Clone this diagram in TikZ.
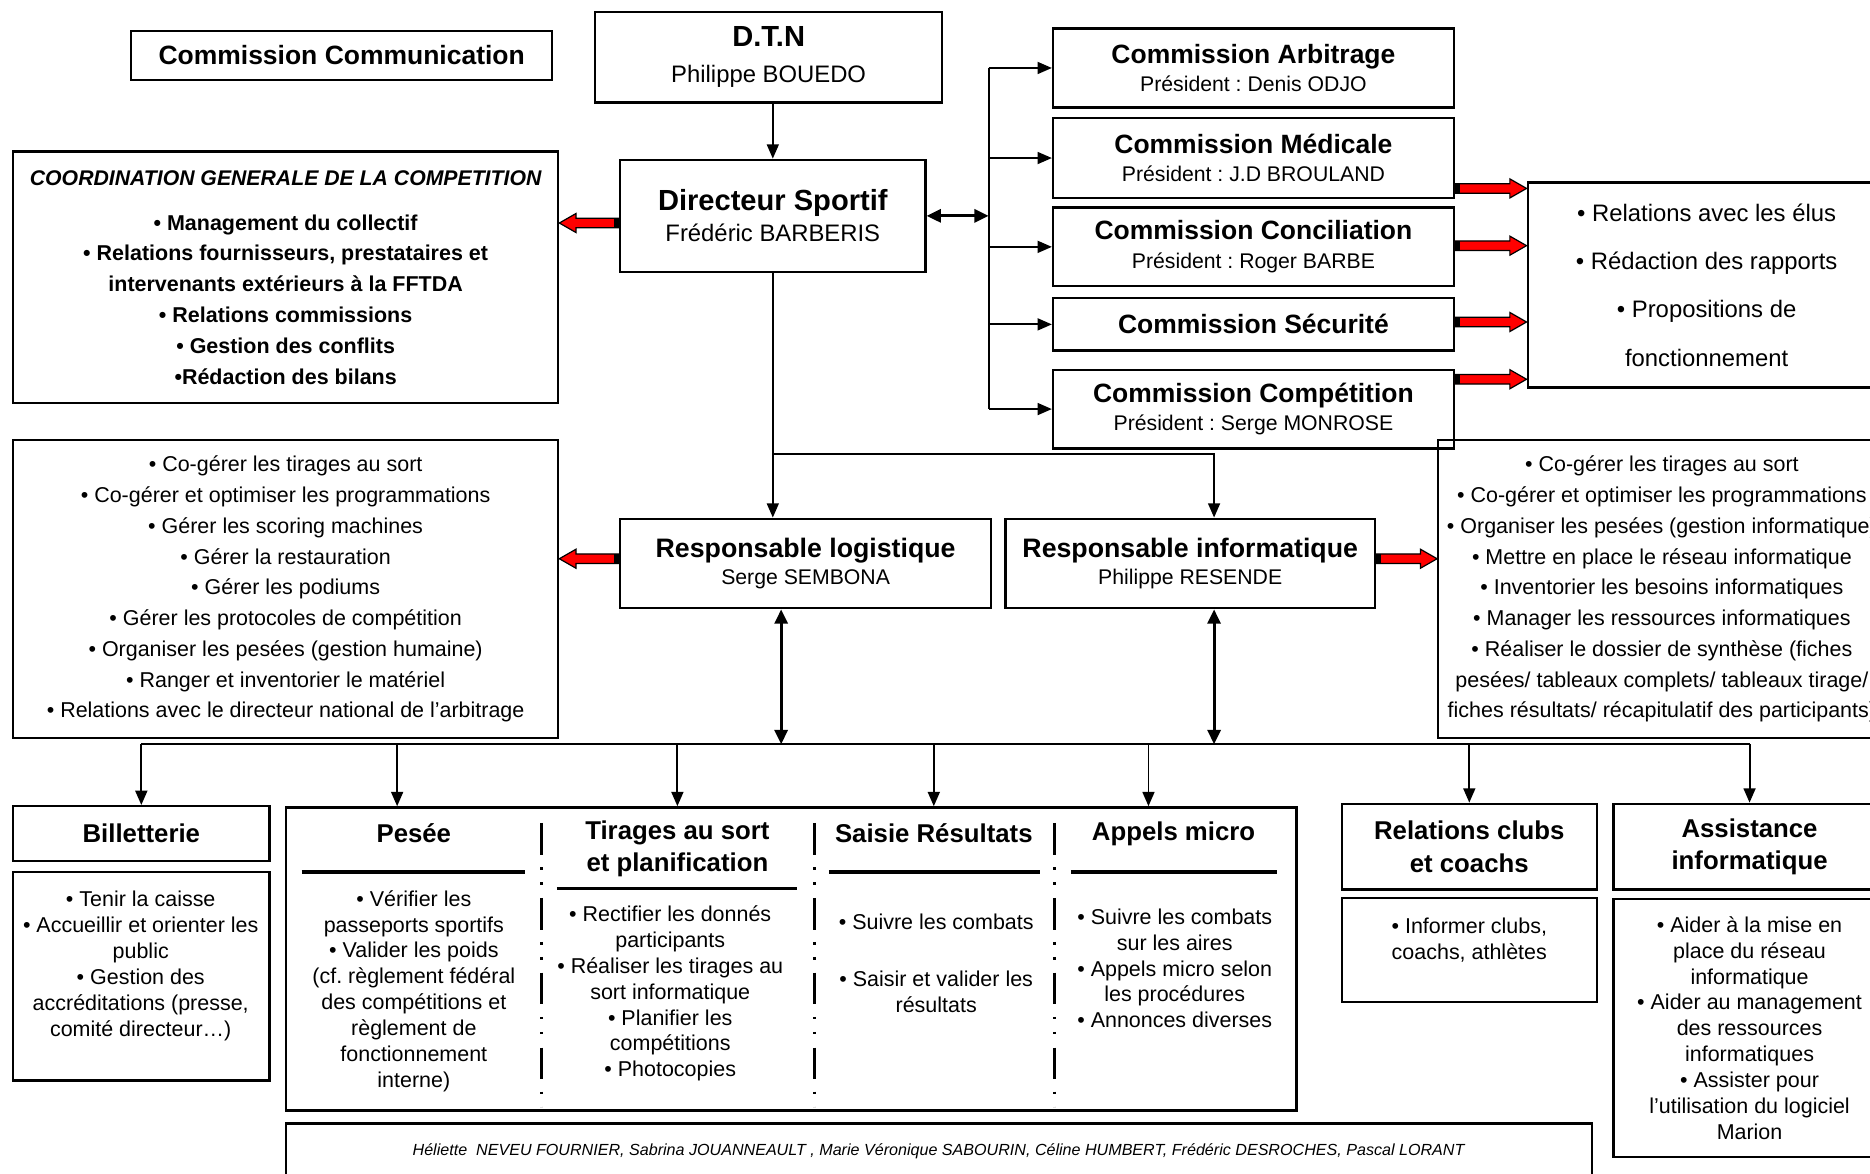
\documentclass[tikz,border=0pt]{standalone}
\usepackage{fontspec}
\setmainfont{Liberation Sans}
\frenchspacing
\usetikzlibrary{arrows.meta,calc}
\newcommand\hA{\fontsize{12.2}{13}\selectfont\bfseries}
\newcommand\hB{\fontsize{11.1}{12}\selectfont\bfseries}
\newcommand\hC{\fontsize{10.8}{13.5}\selectfont\bfseries}
\newcommand\fatarrow[2]{%
  \path #1 coordinate (fa1);
  \path (#2 |- fa1) coordinate (fa2);
  \path ($(fa2)!7pt!(fa1)$) coordinate (fah);
  \filldraw[fill=red,draw=black,line width=0.5pt] ($(fa1)+(0,4)$) -- ($(fah)+(0,4)$) -- ($(fah)+(0,8)$)
    -- (fa2) -- ($(fah)+(0,-8)$) -- ($(fah)+(0,-4)$) -- ($(fa1)+(0,-4)$) -- cycle;
  \fill ($(fa1)+(0,4)$) rectangle ($(fa1)!2pt!(fa2)+(0,-4)$);}
\begin{document}
\begin{tikzpicture}[x=0.5pt,y=-0.5pt,
    box/.style={draw,line width=1pt,inner sep=0pt,align=center},
    spot/.style n args={4}{at={({(#1+#3)/2},{(#2+#4)/2})},minimum width={(#3-#1)*0.5pt},minimum height={(#4-#2)*0.5pt}},
    body/.style={align=center,font=\fontsize{9}{10.85}\selectfont},
    arr/.style={line width=0.8pt,-{Triangle[length=6pt,width=5pt]}},
    darr/.style={line width=1.2pt,{Triangle[length=6pt,width=5.5pt]}-{Triangle[length=6pt,width=5.5pt]}},
    sep/.style={line width=1.1pt,dash pattern=on 13.3pt off 5.2pt on 1.1pt off 5.2pt on 1.1pt off 5.5pt},
    rule/.style={line width=1.5pt}
  ]
  \useasboundingbox (0,0) rectangle (1568,984);
  \node[box,spot={110}{26}{463}{67},font=\hB] (comm) {Commission Communication};
  \node[box,spot={499}{10}{790}{86},font=\fontsize{10}{15}\selectfont] (dtn) {{\hA D.T.N}\\Philippe BOUEDO};
  \node[box,spot={520}{134}{776}{228},font=\fontsize{10}{13}\selectfont] (ds) {{\hA Directeur Sportif}\\Frédéric BARBERIS};
  \node[box,spot={11}{127}{468}{338},font=\fontsize{9}{12.9}\selectfont\bfseries] (coord)
    {{\fontsize{8.9}{12.9}\selectfont\itshape COORDINATION GENERALE DE LA COMPETITION}\\[6pt]
     • Management du collectif\\• Relations fournisseurs, prestataires et\\intervenants extérieurs à la FFTDA\\
     • Relations commissions\\• Gestion des conflits\\•Rédaction des bilans};
  \node[box,spot={883}{24}{1219}{90},font=\fontsize{8.9}{12}\selectfont] (arb) {{\hB Commission Arbitrage}\\Président : Denis ODJO};
  \node[box,spot={883}{99}{1219}{166},font=\fontsize{8.9}{12}\selectfont] (med) {{\hB Commission Médicale}\\Président : J.D BROULAND};
  \node[box,spot={883}{174}{1219}{240},font=\fontsize{8.9}{12}\selectfont] (conc) {{\hB Commission Conciliation}\\Président : Roger BARBE};
  \node[box,spot={883}{250}{1219}{294},font=\hB] (secu) {Commission Sécurité};
  \node[box,spot={883}{310}{1219}{376},font=\fontsize{8.9}{12}\selectfont] (compe) {{\hB Commission Compétition}\\Président : Serge MONROSE};
  \node[box,spot={1281}{153}{1581}{325},font=\fontsize{10}{20.3}\selectfont] (elus)
    {• Relations avec les élus\\• Rédaction des rapports\\• Propositions de\\fonctionnement};
  \node[box,spot={520}{435}{831}{510},font=\fontsize{8.9}{11.5}\selectfont] (rlog) {{\fontsize{11.2}{11.5}\selectfont\bfseries Responsable logistique}\\Serge SEMBONA};
  \node[box,spot={843}{435}{1153}{510},font=\fontsize{8.9}{11.5}\selectfont] (rinfo) {{\fontsize{11.2}{11.5}\selectfont\bfseries Responsable informatique}\\Philippe RESENDE};
  \node[box,spot={11}{369}{468}{619},font=\fontsize{9}{12.9}\selectfont] (logb)
    {• Co-gérer les tirages au sort\\• Co-gérer et optimiser les programmations\\• Gérer les scoring machines\\
     • Gérer la restauration\\• Gérer les podiums\\• Gérer les protocoles de compétition\\
     • Organiser les pesées (gestion humaine)\\• Ranger et inventorier le matériel\\
     • Relations avec le directeur national de l’arbitrage};
  \node[box,spot={1206}{369}{1581}{619},font=\fontsize{9}{12.9}\selectfont] (infob)
    {• Co-gérer les tirages au sort\\• Co-gérer et optimiser les programmations\\• Organiser les pesées (gestion informatique)\\
     • Mettre en place le réseau informatique\\• Inventorier les besoins informatiques\\• Manager les ressources informatiques\\
     • Réaliser le dossier de synthèse (fiches\\pesées/ tableaux complets/ tableaux tirage/\\fiches résultats/ récapitulatif des participants)};
  \node[box,spot={11}{676}{226}{722},font=\hC] (billh) {Billetterie};
  \node[box,spot={11}{731}{226}{906}] (billb) {};
  \node[body] (billt) at (118,810)
    {• Tenir la caisse\\• Accueillir et orienter les\\public\\• Gestion des\\accréditations (presse,\\comité directeur…)};
  \node[box,spot={240}{677}{1087}{931}] (big) {};
  \node[font=\hC] (pes) at (347,699) {Pesée};
  \node[font=\hC,align=center] (tir) at (568,712) {Tirages au sort\\et planification};
  \node[font=\hC] (sai) at (783,699) {Saisie Résultats};
  \node[font=\hC] (app) at (984,699) {Appels micro};
  \draw[rule] (253,731) -- (440,731);
  \draw[rule] (467,745) -- (668,745);
  \draw[rule] (695,731) -- (872,731);
  \draw[rule] (898,731) -- (1071,731);
  \draw[sep] (454,690) -- (454,928);
  \draw[sep] (683,690) -- (683,928);
  \draw[sep] (884,690) -- (884,928);
  \node[body] (pesb) at (347,831) {• Vérifier les\\passeports sportifs\\• Valider les poids\\(cf. règlement fédéral\\des compétitions et\\règlement de\\fonctionnement\\interne)};
  \node[body] (tirb) at (562,833) {• Rectifier les donnés\\participants\\• Réaliser les tirages au\\sort informatique\\• Planifier les\\compétitions\\• Photocopies};
  \node[body] (saib) at (785,808) {• Suivre les combats\\[13pt]• Saisir et valider les\\résultats};
  \node[body] (appb) at (985,812) {• Suivre les combats\\sur les aires\\• Appels micro selon\\les procédures\\• Annonces diverses};
  \node[box,spot={240}{942}{1335}{1000}] (foot) {};
  \node[font=\fontsize{6.75}{8}\selectfont\itshape] (names) at (787,965)
    {Héliette\ \ NEVEU FOURNIER, Sabrina JOUANNEAULT , Marie Véronique SABOURIN, Céline HUMBERT, Frédéric DESROCHES, Pascal LORANT};
  \node[box,spot={1125}{674}{1339}{746},font=\hC] (relh) {Relations clubs\\et coachs};
  \node[box,spot={1125}{753}{1339}{840}] (relb) {};
  \node[body] (relt) at (1232,788) {• Informer clubs,\\coachs, athlètes};
  \node[box,spot={1353}{674}{1581}{746},font=\hC] (assh) {Assistance\\informatique};
  \node[box,spot={1353}{754}{1581}{970},body] (assb)
    {• Aider à la mise en\\place du réseau\\informatique\\• Aider au management\\des ressources\\informatiques\\
     • Assister pour\\l’utilisation du logiciel\\Marion};
  \coordinate (cb) at (829,0);
  \coordinate (ia) at (1018,381);
  \coordinate (la) at (655,624);
  \draw[arr] (dtn.south -| ds.north) -- (ds.north);
  \draw[darr] (ds.east) -- (cb |- ds.east);
  \draw[line width=0.8pt] (cb |- arb.west) -- (cb |- compe.west);
  \draw[arr] (cb |- arb.west) -- (arb.west);
  \draw[arr] (cb |- med.west) -- (med.west);
  \draw[arr] (cb |- conc.west) -- (conc.west);
  \draw[arr] (cb |- secu.west) -- (secu.west);
  \draw[arr] (cb |- compe.west) -- (compe.west);
  \draw[arr] (ds.south) -- (ds.south |- rlog.north);
  \draw[arr] (ds.south |- ia) -- (ia) -- (ia |- rinfo.north);
  \draw[darr] (la |- rlog.south) -- (la);
  \draw[darr] (ia |- rinfo.south) -- (ia |- la);
  \draw[line width=0.8pt] (billh.north |- la) -- (assh.north |- la);
  \draw[arr] (billh.north |- la) -- (billh.north);
  \draw[arr] (relh.north |- la) -- (relh.north);
  \draw[arr] (assh.north |- la) -- (assh.north);
  \foreach \x in {333,568,783,963}
    \draw[arr] (la -| \x,0) -- (big.north -| \x,0);
  \fatarrow{($(ds.west)+(0,6)$)}{coord.east}
  \fatarrow{($(med.south east)+(0,-9)$)}{elus.west}
  \fatarrow{($(conc.east)+(0,-1)$)}{elus.west}
  \fatarrow{($(secu.east)+(0,-2)$)}{elus.west}
  \fatarrow{($(compe.north east)+(0,9)$)}{elus.west}
  \fatarrow{($(rlog.west)+(0,-4)$)}{logb.east}
  \fatarrow{($(rinfo.east)+(0,-4)$)}{infob.west}
\end{tikzpicture}
\end{document}
